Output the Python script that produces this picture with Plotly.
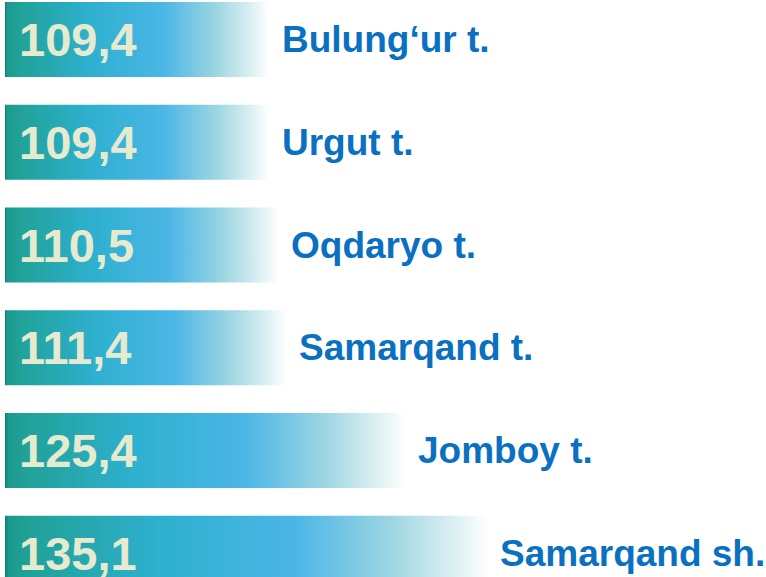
import plotly.graph_objects as go

# Data (top to bottom as in the reference)
districts = ["Bulung‘ur t.", "Urgut t.", "Oqdaryo t.", "Samarqand t.", "Jomboy t.", "Samarqand sh."]
values = [109.4, 109.4, 110.5, 111.4, 125.4, 135.1]
value_labels = ["109,4", "109,4", "110,5", "111,4", "125,4", "135,1"]

BASE = 78.28         # axis baseline the bars grow from
HALF = 0.365         # half bar thickness in category units

bar_scale = [
    [0.0, "#0f7f72"],
    [0.008, "#1c9a8d"],
    [0.06, "#21a29a"],
    [0.32, "#2eb0cf"],
    [0.6, "#4bb6e6"],
    [0.8, "#9dd6e2"],
    [0.93, "#dcf0f2"],
    [1.0, "#ffffff"],
]

fig = go.Figure()
annotations = []
for i, (name, v, lab) in enumerate(zip(districts, values, value_labels)):
    fig.add_trace(go.Scatter(
        x=[BASE, v, v, BASE, BASE],
        y=[i - HALF, i - HALF, i + HALF, i + HALF, i - HALF],
        mode="lines",
        line=dict(width=0),
        fill="toself",
        fillgradient=dict(type="horizontal", colorscale=bar_scale),
        hoverinfo="skip",
        showlegend=False,
    ))
    annotations.append(dict(
        x=BASE, y=i, xref="x", yref="y", text=lab, showarrow=False,
        xanchor="left", yanchor="middle", xshift=12,
        font=dict(family="Liberation Sans, Arial, sans-serif", size=47,
                  color="#e6ebcf", weight="bold"),
    ))
    annotations.append(dict(
        x=v, y=i, xref="x", yref="y", text=name, showarrow=False,
        xanchor="left", yanchor="middle", xshift=10,
        font=dict(family="Liberation Sans, Arial, sans-serif", size=37,
                  color="#0a70c2", weight="bold"),
    ))

fig.update_layout(
    width=766, height=577,
    margin=dict(l=0, r=0, t=0, b=0),
    paper_bgcolor="white", plot_bgcolor="white",
    annotations=annotations,
    xaxis=dict(range=[77.69, 167.81], visible=False, fixedrange=True),
    yaxis=dict(range=[5.23, -0.384], visible=False, fixedrange=True),
)

fig.write_html(
    "out.html",
    config={"displayModeBar": False, "staticPlot": True},
    post_script="document.body.style.margin='0';document.body.style.overflow='hidden';",
)
